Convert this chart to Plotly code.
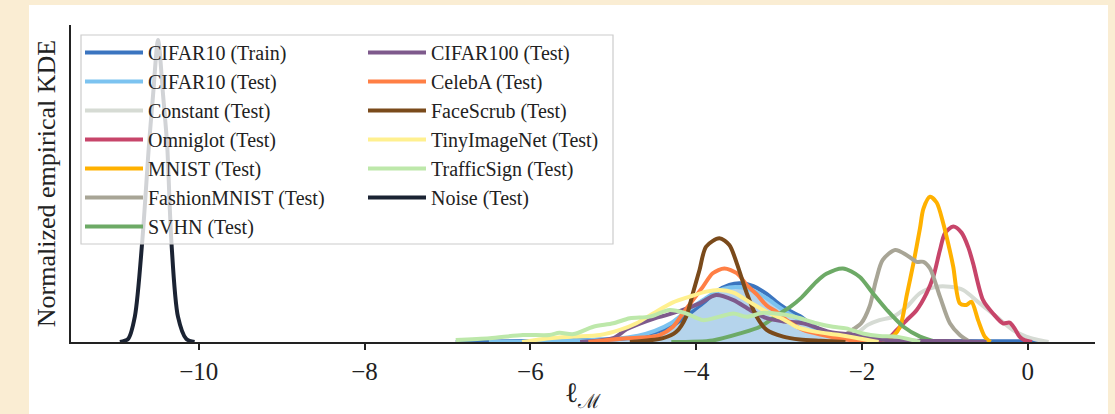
import plotly.graph_objects as go

# ---------------- data ----------------
names = ["CIFAR10 (Train)", "CIFAR10 (Test)", "Constant (Test)", "Omniglot (Test)",
         "MNIST (Test)", "FashionMNIST (Test)", "SVHN (Test)", "CIFAR100 (Test)",
         "CelebA (Test)", "FaceScrub (Test)", "TinyImageNet (Test)", "TrafficSign (Test)",
         "Noise (Test)"]
colors = ["#3B75C0", "#7CC3F0", "#D6DBD4", "#C7456A", "#FFB100", "#A8A596", "#6DAA66",
          "#7E5A8C", "#FF7F45", "#7A4A1B", "#FFF08F", "#BDE8AA", "#1B2333"]

cifar10_train_x = [-6.9, -6.0, -5.3, -4.9, -4.68, -4.56, -4.40, -4.24, -4.08, -3.92, -3.76, -3.60,
                   -3.47, -3.31, -3.15, -2.99, -2.87, -2.75, -2.63, -2.50, -2.39, -2.1, -1.8, -1.0, 0.0, 0.2]
cifar10_train_y = [0.0, 0.003, 0.006, 0.01, 0.017, 0.027, 0.038, 0.059, 0.09, 0.122, 0.159, 0.18,
                   0.185, 0.176, 0.152, 0.118, 0.098, 0.082, 0.059, 0.038, 0.022, 0.01, 0.005, 0.003, 0.002, 0.0]

cifar10_test_x = [-6.5, -5.5, -5.0, -4.7, -4.5, -4.3, -4.1, -3.9, -3.75, -3.6, -3.45, -3.3, -3.15,
                  -3.0, -2.85, -2.7, -2.5, -2.3, -2.0, -1.5, -0.5]
cifar10_test_y = [0.0, 0.004, 0.01, 0.02, 0.035, 0.06, 0.1, 0.135, 0.16, 0.172, 0.172, 0.16, 0.138,
                  0.11, 0.085, 0.062, 0.035, 0.018, 0.008, 0.003, 0.0]

constant_x = [-2.5, -2.3, -2.07, -1.93, -1.79, -1.62, -1.46, -1.30, -1.10, -0.94, -0.78, -0.58,
              -0.38, -0.18, -0.02, 0.10, 0.25]
constant_y = [0.0, 0.01, 0.027, 0.054, 0.069, 0.08, 0.111, 0.154, 0.174, 0.174, 0.164, 0.122,
              0.08, 0.038, 0.017, 0.008, 0.0]

omniglot_x = [-1.8, -1.68, -1.58, -1.46, -1.34, -1.22, -1.14, -1.06, -1.00, -0.90, -0.80, -0.72,
              -0.66, -0.54, -0.42, -0.30, -0.22, -0.16, -0.10, -0.04, 0.05]
omniglot_y = [0.0, 0.012, 0.038, 0.069, 0.101, 0.154, 0.206, 0.29, 0.343, 0.364, 0.345, 0.30,
              0.248, 0.132, 0.09, 0.059, 0.061, 0.043, 0.017, 0.006, 0.0]

mnist_x = [-1.75, -1.62, -1.54, -1.46, -1.38, -1.30, -1.26, -1.18, -1.10, -1.02, -0.96, -0.90,
           -0.82, -0.74, -0.68, -0.60, -0.52, -0.45]
mnist_y = [0.0, 0.02, 0.048, 0.148, 0.248, 0.36, 0.42, 0.458, 0.44, 0.374, 0.31, 0.238,
           0.122, 0.117, 0.127, 0.069, 0.017, 0.0]

fashion_x = [-2.4, -2.21, -2.09, -2.01, -1.91, -1.83, -1.75, -1.60, -1.46, -1.34, -1.26, -1.18,
             -1.06, -0.94, -0.82, -0.7]
fashion_y = [0.0, 0.022, 0.043, 0.059, 0.111, 0.196, 0.259, 0.29, 0.274, 0.253, 0.253, 0.232,
             0.143, 0.059, 0.022, 0.0]

svhn_x = [-4.3, -3.8, -3.47, -3.23, -2.99, -2.87, -2.73, -2.55, -2.43, -2.23, -2.03, -1.87,
          -1.70, -1.50, -1.30, -1.1]
svhn_y = [0.0, 0.005, 0.027, 0.048, 0.09, 0.11, 0.14, 0.19, 0.215, 0.232, 0.206, 0.154,
          0.101, 0.048, 0.017, 0.0]

cifar100_x = [-5.4, -5.0, -4.84, -4.5, -4.36, -4.16, -3.96, -3.76, -3.55, -3.35, -3.15, -2.95,
              -2.71, -2.39, -2.07, -1.7, -1.0, -0.5]
cifar100_y = [0.0, 0.012, 0.04, 0.075, 0.085, 0.101, 0.122, 0.148, 0.132, 0.101, 0.075, 0.065,
              0.059, 0.032, 0.022, 0.006, 0.003, 0.0]

celeba_x = [-5.3, -4.84, -4.56, -4.44, -4.28, -4.16, -4.04, -3.92, -3.80, -3.66, -3.51, -3.39,
            -3.27, -3.15, -3.03, -2.91, -2.71, -2.47, -2.2, -1.9]
celeba_y = [0.0, 0.012, 0.016, 0.022, 0.048, 0.09, 0.132, 0.174, 0.217, 0.232, 0.217, 0.18,
            0.15, 0.115, 0.095, 0.069, 0.038, 0.022, 0.008, 0.0]

facescrub_x = [-4.8, -4.4, -4.24, -4.12, -4.04, -3.96, -3.88, -3.72, -3.60, -3.51, -3.39, -3.27,
               -3.15, -2.95, -2.75, -2.5, -2.2]
facescrub_y = [0.0, 0.012, 0.032, 0.08, 0.154, 0.227, 0.301, 0.327, 0.306, 0.248, 0.154, 0.08,
               0.038, 0.017, 0.008, 0.004, 0.0]

tiny_x = [-6.1, -5.77, -5.48, -5.16, -4.92, -4.72, -4.52, -4.28, -4.08, -3.88, -3.72, -3.55,
          -3.35, -3.15, -2.95, -2.79, -2.55, -2.27, -1.8]
tiny_y = [0.0, 0.012, 0.017, 0.022, 0.038, 0.059, 0.09, 0.125, 0.143, 0.159, 0.164, 0.156,
          0.125, 0.095, 0.072, 0.048, 0.032, 0.022, 0.0]

traffic_x = [-6.9, -6.49, -6.09, -5.77, -5.65, -5.48, -5.24, -5.00, -4.80, -4.56, -4.32, -4.12,
             -3.92, -3.72, -3.55, -3.39, -3.19, -2.99, -2.79, -2.55, -2.35, -2.19, -1.99, -1.79,
             -1.58, -1.3]
traffic_y = [0.006, 0.012, 0.022, 0.022, 0.029, 0.025, 0.048, 0.059, 0.075, 0.08, 0.101, 0.09,
             0.069, 0.08, 0.09, 0.08, 0.092, 0.088, 0.078, 0.059, 0.048, 0.043, 0.027, 0.019,
             0.017, 0.0]

noise_x = [-10.95, -10.85, -10.77, -10.68, -10.60, -10.55, -10.49, -10.43, -10.38, -10.33,
           -10.25, -10.15, -10.05]
noise_y = [0.0, 0.01, 0.08, 0.32, 0.62, 0.78, 0.953, 0.78, 0.62, 0.32, 0.08, 0.01, 0.0]

xs = [cifar10_train_x, cifar10_test_x, constant_x, omniglot_x, mnist_x, fashion_x, svhn_x,
      cifar100_x, celeba_x, facescrub_x, tiny_x, traffic_x, noise_x]
ys = [cifar10_train_y, cifar10_test_y, constant_y, omniglot_y, mnist_y, fashion_y, svhn_y,
      cifar100_y, celeba_y, facescrub_y, tiny_y, traffic_y, noise_y]

tick_vals = [-10, -8, -6, -4, -2, 0]
tick_text = ["\u221210", "\u22128", "\u22126", "\u22124", "\u22122", "0"]

# ---------------- figure ----------------
W, H = 1115, 414
L, R, T, B = 71, 20, 25, 72
pw, ph = W - L - R, H - T - B

def px2paper_x(px):
    return (px - L) / pw

def px2paper_y(py):
    return (H - B - py) / ph

FONT = "Liberation Serif"
INK = "#222222"

fig = go.Figure()
# shaded area under the training-set KDE (no legend entry)
fig.add_trace(go.Scatter(
    x=cifar10_train_x, y=cifar10_train_y, mode="lines", fill="tozeroy",
    fillcolor="#B5D4EC", line=dict(width=0, shape="spline", smoothing=0.8),
    showlegend=False, hoverinfo="skip"))
for i, (n, c, x, y) in enumerate(zip(names, colors, xs, ys)):
    fig.add_trace(go.Scatter(
        x=x, y=y, name=n, mode="lines",
        line=dict(color=c, width=4, shape="spline", smoothing=0.8),
        legend="legend" if i < 7 else "legend2",
        showlegend=True))

# white page area and legend frame
shapes = [
    dict(type="rect", xref="paper", yref="paper",
         x0=px2paper_x(29), x1=px2paper_x(1108), y0=px2paper_y(420), y1=px2paper_y(5),
         fillcolor="white", line=dict(width=0), layer="below"),
    dict(type="rect", xref="paper", yref="paper",
         x0=px2paper_x(81), x1=px2paper_x(613), y0=px2paper_y(244), y1=px2paper_y(35),
         fillcolor="rgba(255,255,255,0.8)", line=dict(color="#CCCCCC", width=1.2), layer="above"),
]

legend_common = dict(bgcolor="rgba(0,0,0,0)", borderwidth=0,
                     font=dict(family=FONT, size=20, color=INK),
                     xanchor="left", yanchor="top", orientation="v",
                     itemwidth=58, tracegroupgap=0)

fig.update_layout(
    width=W, height=H,
    margin=dict(l=L, r=R, t=T, b=B, autoexpand=False),
    paper_bgcolor="#FAEDD3",
    plot_bgcolor="rgba(0,0,0,0)",
    font=dict(family=FONT, color=INK),
    shapes=shapes,
    legend=dict(x=px2paper_x(80), y=px2paper_y(33), **legend_common),
    legend2=dict(x=px2paper_x(363), y=px2paper_y(33), **legend_common),
    xaxis=dict(range=[-11.54, 0.81], tickvals=tick_vals, ticktext=tick_text,
               showline=True, linecolor=INK, linewidth=2.2, mirror=False,
               ticks="outside", ticklen=6, tickwidth=1.6, tickcolor=INK,
               showgrid=False, zeroline=False,
               tickfont=dict(family=FONT, size=25, color=INK)),
    yaxis=dict(range=[0, 1.0], showline=True, linecolor=INK, linewidth=2.2,
               showticklabels=False, ticks="", showgrid=False, zeroline=False,
               title=dict(text="Normalized empirical KDE", standoff=6,
                          font=dict(family=FONT, size=26, color=INK))),
    annotations=[dict(text="\u2113<sub>\u2133</sub>", xref="paper", yref="paper",
                      x=px2paper_x(583), y=px2paper_y(394), xanchor="center", yanchor="middle",
                      showarrow=False, font=dict(family=FONT, size=28, color=INK))],
)

fig.write_html("out.html", config={"displayModeBar": False},
               post_script="document.body.style.margin='0px';document.body.style.padding='0px';")
